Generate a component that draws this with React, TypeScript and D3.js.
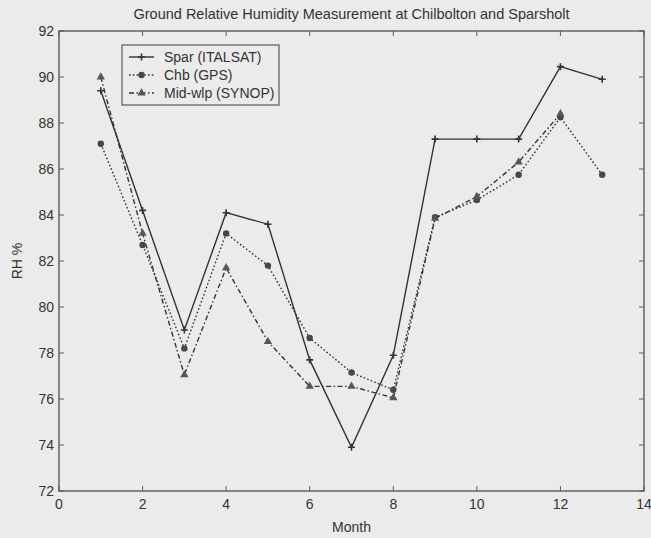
import React from "react";
import * as d3 from "d3";

// Monthly ground relative humidity (%) at the three sites
const months = [1, 2, 3, 4, 5, 6, 7, 8, 9, 10, 11, 12, 13];
const sparItalsat = [89.4, 84.2, 79.0, 84.1, 83.6, 77.7, 73.9, 77.9, 87.3, 87.3, 87.3, 90.45, 89.9];
const chbGps = [87.1, 82.7, 78.2, 83.2, 81.8, 78.65, 77.15, 76.4, 83.9, 84.65, 85.75, 88.25, 85.75];
const midSynop = [90.0, 83.2, 77.05, 81.7, 78.5, 76.55, 76.55, 76.05, 83.85, 84.8, 86.3, 88.4];

const xTicks = [0, 2, 4, 6, 8, 10, 12, 14];
const yTicks = [72, 74, 76, 78, 80, 82, 84, 86, 88, 90, 92];
const seriesNames = ["Spar (ITALSAT)", "Chb (GPS)", "Mid-wlp (SYNOP)"];

const W = 651;
const H = 538;
const margin = { left: 59, right: 7, top: 31, bottom: 47 };
const FONT = "'Liberation Sans', Arial, Helvetica, sans-serif";
const INK = "#333333";
const FRAME = "#5a5a5a";
const BG = "#ebebeb";

type Style = { dash: string | null; marker: "plus" | "circle" | "triangle" };
const styles: Style[] = [
  { dash: null, marker: "plus" },
  { dash: "1.6,2.2", marker: "circle" },
  { dash: "5,2.5,1.5,2.5", marker: "triangle" },
];

function Marker({ kind, x, y }: { kind: Style["marker"]; x: number; y: number }) {
  if (kind === "plus") {
    return (
      <path
        d={`M${x - 3.5},${y}H${x + 3.5}M${x},${y - 3.5}V${y + 3.5}`}
        stroke={INK}
        strokeWidth={1.6}
      />
    );
  }
  if (kind === "circle") {
    return <circle cx={x} cy={y} r={3.2} fill="#474747" />;
  }
  const sym = d3.symbol(d3.symbolTriangle, 30)();
  return <path d={sym || ""} transform={`translate(${x},${y})`} fill="#575757" />;
}

export default function App() {
  const x = d3.scaleLinear().domain([0, 14]).range([margin.left, W - margin.right]);
  const y = d3.scaleLinear().domain([72, 92]).range([H - margin.bottom, margin.top]);
  const x0 = x.range()[0];
  const x1 = x.range()[1];
  const y0 = y.range()[0];
  const y1 = y.range()[1];

  const series = [sparItalsat, chbGps, midSynop];
  const line = d3
    .line<[number, number]>()
    .x((d) => x(d[0]))
    .y((d) => y(d[1]));

  const tick = 5;
  const legend = { x: 122, y: 45, w: 157, h: 60 };
  const rowY = [57, 75, 93];

  return (
    <svg
      width={W}
      height={H}
      style={{ position: "fixed", left: 0, top: 0, background: BG, fontFamily: FONT }}
    >
      <rect x={0} y={0} width={W} height={H} fill={BG} />
      <text x={(x0 + x1) / 2} y={19} textAnchor="middle" fontSize={14.5} fill={INK}>
        Ground Relative Humidity Measurement at Chilbolton and Sparsholt
      </text>

      {/* ticks on all four sides */}
      {xTicks.map((t) => (
        <g key={"xt" + t}>
          <line x1={x(t)} x2={x(t)} y1={y0} y2={y0 - tick} stroke={FRAME} />
          <line x1={x(t)} x2={x(t)} y1={y1} y2={y1 + tick} stroke={FRAME} />
          <text x={x(t)} y={509} textAnchor="middle" fontSize={14} fill={INK}>
            {t}
          </text>
        </g>
      ))}
      {yTicks.map((t) => (
        <g key={"yt" + t}>
          <line x1={x0} x2={x0 + tick} y1={y(t)} y2={y(t)} stroke={FRAME} />
          <line x1={x1} x2={x1 - tick} y1={y(t)} y2={y(t)} stroke={FRAME} />
          <text x={54} y={y(t) + 5} textAnchor="end" fontSize={14} fill={INK}>
            {t}
          </text>
        </g>
      ))}

      <rect
        x={x0}
        y={y1}
        width={x1 - x0}
        height={y0 - y1}
        fill="none"
        stroke={FRAME}
        strokeWidth={1.4}
      />

      {series.map((vals, i) => {
        const pts = vals.map((v, j) => [months[j], v] as [number, number]);
        return (
          <g key={"s" + i}>
            <path
              d={line(pts) || ""}
              fill="none"
              stroke={INK}
              strokeWidth={1.4}
              strokeDasharray={styles[i].dash || undefined}
            />
            {pts.map((p, j) => (
              <Marker key={j} kind={styles[i].marker} x={x(p[0])} y={y(p[1])} />
            ))}
          </g>
        );
      })}

      <text x={(x0 + x1) / 2} y={532} textAnchor="middle" fontSize={14} fill={INK}>
        Month
      </text>
      <text
        transform={`translate(22,${(y0 + y1) / 2}) rotate(-90)`}
        textAnchor="middle"
        fontSize={14}
        fill={INK}
      >
        RH %
      </text>

      {/* legend */}
      <rect
        x={legend.x}
        y={legend.y}
        width={legend.w}
        height={legend.h}
        fill={BG}
        stroke={FRAME}
        strokeWidth={1.2}
      />
      {seriesNames.map((name, i) => (
        <g key={"lg" + i}>
          <line
            x1={129}
            x2={154}
            y1={rowY[i]}
            y2={rowY[i]}
            stroke={INK}
            strokeWidth={1.4}
            strokeDasharray={styles[i].dash || undefined}
          />
          <Marker kind={styles[i].marker} x={141.5} y={rowY[i]} />
          <text x={164} y={rowY[i] + 5} fontSize={14} fill={INK}>
            {name}
          </text>
        </g>
      ))}
    </svg>
  );
}
